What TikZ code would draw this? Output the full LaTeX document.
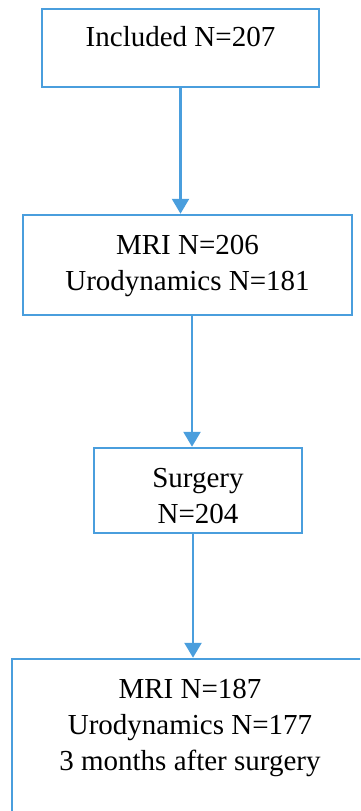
\documentclass[tikz,border=0pt]{standalone}
\usepackage{fontspec}
\setmainfont{Liberation Serif}
\usetikzlibrary{arrows.meta}
\definecolor{boxblue}{RGB}{74,158,221}

\begin{document}
\begin{tikzpicture}[x=1pt,y=-1pt,
  box/.style={draw=boxblue, line width=2.5pt, align=center, inner sep=0pt,
    font=\fontsize{29}{36}\selectfont},
  flow/.style={draw=boxblue, line width=2.5pt, -{Triangle[width=17pt,length=15pt]}}]
\useasboundingbox (0,0) rectangle (360,811);
\clip (0,0) rectangle (360,811);

\node[box, minimum width=277pt, text height=37.5pt, text depth=40.5pt] (inc) at (180.5,48) {Included N=207};
\node[box, minimum width=329pt, text height=75pt, text depth=25pt] (mri) at (187.5,265) {MRI N=206\\Urodynamics N=181};
\node[box, minimum width=208pt, text height=75pt, text depth=10pt] (surg) at (198,490.5) {Surgery\\N=204};
\node[box, minimum width=356pt, text height=111pt, text depth=59pt] (post) at (190,744) {MRI N=187\\Urodynamics N=177\\3 months after surgery};

\draw[flow] (inc.south) -- (inc.south |- mri.north);
\draw[flow] ([xshift=4.5pt]mri.south) -- ([xshift=4.5pt]mri.south |- surg.north);
\draw[flow] ([xshift=-5pt]surg.south) -- ([xshift=-5pt]surg.south |- post.north);
\end{tikzpicture}
\end{document}
